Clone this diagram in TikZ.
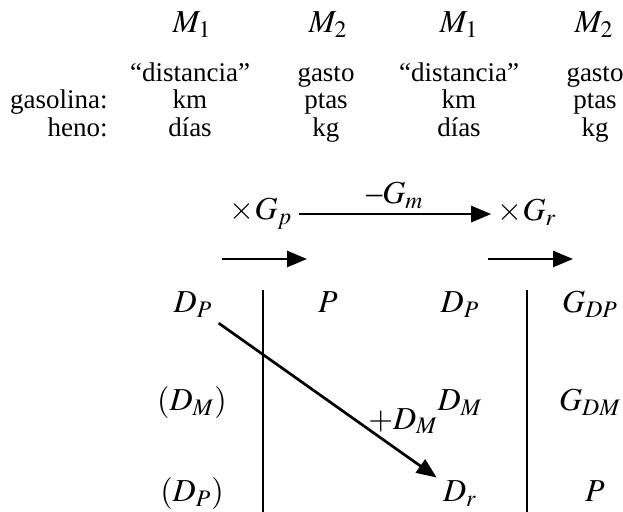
\documentclass[tikz,border=0pt]{standalone}
\usepackage{mathptmx}
\usepackage{fontspec}
\setmainfont{Liberation Serif}
\usetikzlibrary{arrows.meta}

\begin{document}
\begin{tikzpicture}[x=0.5pt,y=-0.5pt,
  txt/.style={anchor=base,inner sep=0pt,font=\fontsize{13.5}{16}\selectfont},
  lbl/.style={anchor=base,inner sep=3pt,font=\fontsize{16}{19}\selectfont},
  arr/.style={line width=1.35pt,-{Triangle[length=10pt,width=8pt]}},
  bar/.style={line width=1.1pt}]
  \useasboundingbox (0,0) rectangle (623,512);
  % magnitudes
  \foreach \x/\m/\n in {192/1/ma,328/2/mb,459/1/mc,594/2/md} { \node[lbl] (\n) at (\x,33) {$M_\m$}; }
  \foreach \x/\n in {190/a,459/c} {
    \node[txt] (dist\n) at (\x,82) {``distancia''};
    \node[txt] (km\n) at (\x,109) {km};
    \node[txt] (dias\n) at (\x,137) {días};
  }
  \foreach \x/\n in {326/b,595/d} {
    \node[txt] (gasto\n) at (\x,82) {gasto};
    \node[txt] (ptas\n) at (\x,109) {ptas};
    \node[txt] (kg\n) at (\x,137) {kg};
  }
  \node[txt,anchor=base east] (gasolina) at (108,109) {gasolina:};
  \node[txt,anchor=base east] (heno) at (108,137) {heno:};
  % factores
  \node[lbl] (gp) at (261,220) {$\times G_p$};
  \node[lbl] (gr) at (527,221) {$\times G_r$};
  \draw[arr] (gp.east) -- (gp.east -| gr.west) node[midway,above,inner sep=2pt,font=\fontsize{16}{19}\selectfont] {$\mbox{\textendash}G_m$};
  \coordinate (sa) at (222,259); \coordinate (sb) at (307,259);
  \coordinate (sc) at (488,259); \coordinate (sd) at (573,259);
  \draw[arr] (sa) -- (sb);
  \draw[arr] (sc) -- (sd);
  % tabla
  \node[lbl] (dpa) at (193,313) {$D_P$};
  \node[lbl] (dma) at (192,411) {$(D_M)$};
  \node[lbl] (dpb) at (192,502) {$(D_P)$};
  \node[lbl] (pb) at (328,313) {$P$};
  \node[lbl] (dpc) at (460,313) {$D_P$};
  \node[lbl] (dmc) at (460,411) {$D_M$};
  \node[lbl] (dr) at (460,502) {$D_r$};
  \node[lbl] (gdp) at (590,313) {$G_{DP}$};
  \node[lbl] (gdm) at (590,411) {$G_{DM}$};
  \node[lbl] (pd) at (595,502) {$P$};
  \draw[bar] (263,290) -- (263,512);
  \draw[bar] (527,290) -- (527,512);
  \draw[arr] (dpa) -- (dr) node[pos=0.68,anchor=base west,yshift=-0.5pt,inner sep=0pt,font=\fontsize{16}{19}\selectfont] {$+D_M$};
\end{tikzpicture}
\end{document}
